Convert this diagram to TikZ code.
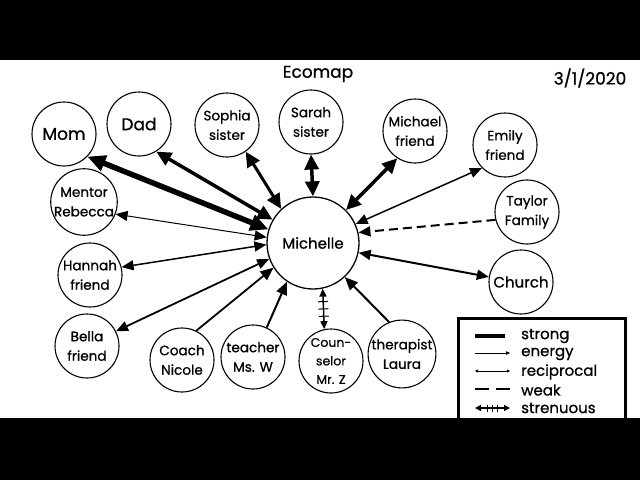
\documentclass[tikz,border=0pt]{standalone}
\usepackage{fontspec}
\setmainfont{Poppins}[FakeBold=0.8]
\usetikzlibrary{arrows.meta,decorations.markings}
\begin{document}
\begin{tikzpicture}[x=1pt,y=-1pt,
  nd/.style={circle,draw,line width=1.1pt,minimum size=64pt,inner sep=0pt,align=center,font=\fontsize{13.6}{19.5}\selectfont},
  ndbig/.style={nd,font=\fontsize{17}{20}\selectfont},
  center/.style={circle,draw,line width=1.3pt,minimum size=92pt,inner sep=0pt,font=\fontsize{15}{18}\selectfont},
  bigtip/.style={line width=5.5pt,{Triangle[length=18pt,width=16pt]}-{Triangle[length=18pt,width=16pt]}},
  thick2/.style={line width=3.5pt,{Triangle[length=15pt,width=14pt]}-{Triangle[length=15pt,width=14pt]}},
  both/.style={line width=#1,{Triangle[length=12pt,width=10pt]}-{Triangle[length=12pt,width=10pt]}},
  oneway/.style={line width=#1,-{Triangle[length=13pt,width=11pt]}},
  tick/.style={-,line width=1pt},
  strenuous/.style={line width=1.5pt,{Triangle[length=8pt,width=7pt]}-{Triangle[length=8pt,width=7pt]},
    postaction={decorate},decoration={markings,
      mark=at position 0.32 with {\draw[tick] (0,-5pt)--(0,5pt);},
      mark=at position 0.5 with {\draw[tick] (0,-5pt)--(0,5pt);},
      mark=at position 0.68 with {\draw[tick] (0,-5pt)--(0,5pt);}}},
  lg/.style={anchor=west,font=\fontsize{15}{18}\selectfont,inner sep=0pt}
]
\useasboundingbox (0,0) rectangle (640,480);
\fill[white] (0,60) rectangle (640,418);

\node[font=\fontsize{17}{20}\selectfont] (title) at (318,74) {Ecomap};
\node[font=\fontsize{17}{20}\selectfont] (date) at (590,78) {3/1/2020};

\node[center] (mich) at (313,243) {Michelle};
\node[ndbig] (mom) at (64,134) {Mom};
\node[ndbig] (dad) at (139,124) {Dad};
\node[nd] (sophia) at (227,125) {Sophia\\sister};
\node[nd] (sarah) at (311,122) {Sarah\\sister};
\node[nd] (michael) at (415,131) {Michael\\friend};
\node[nd] (emily) at (505,145) {Emily\\friend};
\node[nd] (taylor) at (527,212) {Taylor\\Family};
\node[nd,font=\fontsize{15}{18}\selectfont] (church) at (521,282) {Church};
\node[nd] (mentor) at (84,202) {Mentor\\Rebecca};
\node[nd] (hannah) at (90,275) {Hannah\\friend};
\node[nd] (bella) at (87,346) {Bella\\friend};
\node[nd] (coach) at (182,360) {Coach\\Nicole};
\node[nd] (teacher) at (253,357) {teacher\\Ms. W};
\node[nd,font=\fontsize{12.5}{18.5}\selectfont] (couns) at (331,361) {Coun-\\selor\\Mr. Z};
\node[nd] (ther) at (402,354) {therapist\\Laura};

\draw[bigtip] (mom.-44) -- (mich.163);
\draw[thick2] (dad.-58) -- (mich.150);
\draw[thick2,line width=3pt] (sophia.-55) -- (mich.133);
\draw[thick2] (sarah.-90) -- (mich.90);
\draw[thick2] (michael.237) -- (mich.45);
\draw[both=1.5pt] (emily.225) -- (mich.24);
\draw[line width=2pt,dash pattern=on 9pt off 5pt,-{Triangle[length=12pt,width=10pt]}] (taylor.194) -- (mich.13);
\draw[both=2pt] (church.171) -- (mich.-12);
\draw[oneway=2pt] (ther.112) -- (mich.-47);
\draw[strenuous] (couns.102) -- (mich.-78);
\draw[oneway=2pt] (teacher.65) -- (mich.-124);
\draw[oneway=1.8pt] (coach.64) -- (mich.212);
\draw[both=1.8pt] (bella.27) -- (mich.200);
\draw[both=1.5pt] (hannah.14) -- (mich.182);
\draw[both=1pt] (mentor.-21) -- (mich.173);

% legend
\draw[line width=3pt] (458,318) rectangle (625,440);
\coordinate (s1) at (475,336); \coordinate (s2) at (505,336);
\coordinate (e1) at (475,353); \coordinate (e2) at (510,353);
\coordinate (r1) at (475,371); \coordinate (r2) at (510,371);
\coordinate (w1) at (475,389); \coordinate (w2) at (510,389);
\coordinate (t1) at (475,408); \coordinate (t2) at (510,408);
\draw[line width=4pt] (s1) -- (s2);
\draw[line width=0.7pt,-{Triangle[length=4pt,width=3.5pt]}] (e1) -- (e2);
\draw[line width=0.7pt,{Triangle[length=3pt,width=3pt]}-{Triangle[length=3pt,width=3pt]}] (r1) -- (r2);
\draw[line width=1.3pt,dash pattern=on 14pt off 7pt] (w1) -- (w2);
\draw[line width=1.3pt,{Triangle[length=6pt,width=6pt]}-{Triangle[length=6pt,width=6pt]},
  postaction={decorate},decoration={markings,
    mark=at position 0.35 with {\draw[-,line width=0.8pt] (0,-3.5pt)--(0,3.5pt);},
    mark=at position 0.5 with {\draw[-,line width=0.8pt] (0,-3.5pt)--(0,3.5pt);},
    mark=at position 0.65 with {\draw[-,line width=0.8pt] (0,-3.5pt)--(0,3.5pt);}}] (t1) -- (t2);
\node[lg] (l1) at (521,336) {strong};
\node[lg] (l2) at (521,354) {energy};
\node[lg] (l3) at (521,372) {reciprocal};
\node[lg] (l4) at (521,390) {weak};
\node[lg] (l5) at (521,408) {strenuous};

\fill[black] (0,0) rectangle (640,60);
\fill[black] (0,418) rectangle (640,480);
\end{tikzpicture}
\end{document}
